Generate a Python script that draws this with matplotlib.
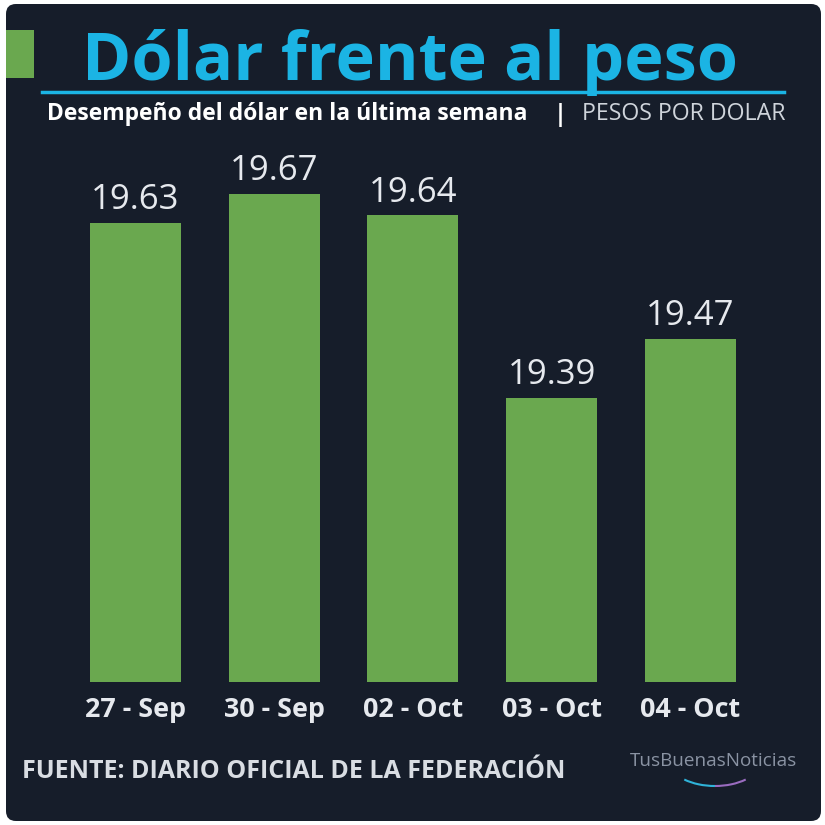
import matplotlib
matplotlib.use("Agg")
import matplotlib.pyplot as plt
from matplotlib.patches import FancyBboxPatch, Rectangle, Arc

fechas = ["27 - Sep", "30 - Sep", "02 - Oct", "03 - Oct", "04 - Oct"]
valores = [19.63, 19.67, 19.64, 19.39, 19.47]
etiquetas = ["19.63", "19.67", "19.64", "19.39", "19.47"]

plt.rcParams["font.family"] = ["Open Sans", "DejaVu Sans"]

W = 825
bg = "#161d2a"
verde = "#6aa84f"
cian = "#1bb4e4"
claro = "#e6e9ee"

fig = plt.figure(figsize=(8.25, 8.25), dpi=100)
fig.patch.set_facecolor("white")

def fx(px):
    return px / W

def fy(py):
    return 1 - py / W

# card de fondo
card = FancyBboxPatch((fx(6), fy(821)), fx(815), fx(817),
                      boxstyle="round,pad=0,rounding_size=0.012",
                      transform=fig.transFigure, facecolor=bg, edgecolor="none",
                      zorder=-10)
fig.patches.append(card)

# cuadro verde y titulo
fig.patches.append(Rectangle((fx(6), fy(78)), fx(28), fx(48), transform=fig.transFigure,
                             facecolor=verde, edgecolor="none", zorder=-5))
fig.text(fx(410), fy(80), "Dólar frente al peso", color=cian, fontsize=48,
         fontweight="bold", ha="center", va="baseline")
fig.add_artist(plt.Line2D([fx(42), fx(784)], [fy(92), fy(92)], color=cian, lw=2.5,
                          transform=fig.transFigure))
fig.text(fx(47), fy(120), "Desempeño del dólar en la última semana", color="white",
         fontsize=16.5, fontweight="bold", ha="left", va="baseline")
fig.text(fx(560), fy(121), "|", color="white", fontsize=17, fontweight="bold",
         ha="center", va="baseline")
fig.text(fx(786), fy(120), "PESOS POR DOLAR", color="#cfd4db", fontsize=16.7,
         ha="right", va="baseline")

# grafico de barras
px_unit = 729
ymin, ymax = 19.0, 19.75
top_px = 682 - (ymax - ymin) * px_unit
ax = fig.add_axes([fx(66.1), fy(682), fx(693.75), (682 - top_px) / W])
ax.set_facecolor("none")
x = range(len(fechas))
ax.bar(x, valores, width=0.656, color=verde, bottom=0)
ax.set_xlim(-0.5, 4.5)
ax.set_ylim(ymin, ymax)
for i, v in enumerate(valores):
    ax.annotate(etiquetas[i], (i, v), xytext=(0, 10), textcoords="offset points",
                ha="center", va="baseline", color=claro, fontsize=25)
ax.set_xticks(list(x))
ax.set_xticklabels(fechas, fontsize=19.4, fontweight="bold", color=claro)
ax.tick_params(axis="x", length=0, pad=11)
ax.set_yticks([])
for s in ax.spines.values():
    s.set_visible(False)

# fuente
fig.text(fx(22), fy(771), "FUENTE: DIARIO OFICIAL DE LA FEDERACIÓN", color="#d9dde3",
         fontsize=18, fontweight="bold", ha="left", va="center")

# logo
fig.text(fx(714), fy(761), "TusBuenasNoticias", color="#8a93a3", fontsize=13.6,
         ha="center", va="center")
arc1 = Arc((fx(715), fy(758)), fx(96), fx(56), theta1=215, theta2=270,
           transform=fig.transFigure, color="#2fb3d9", lw=1.5)
arc2 = Arc((fx(715), fy(758)), fx(96), fx(56), theta1=270, theta2=325,
           transform=fig.transFigure, color="#9a6cc0", lw=1.5)
fig.patches.append(arc1)
fig.patches.append(arc2)

fig.savefig("out.png", dpi=100, facecolor="white")
